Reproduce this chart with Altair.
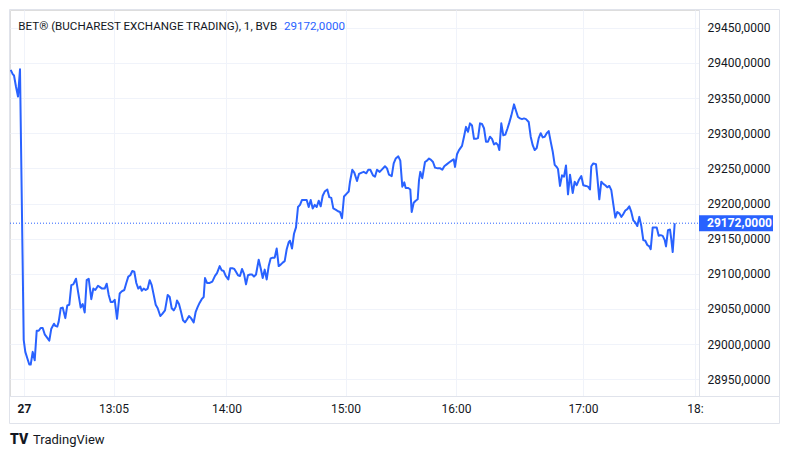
import altair as alt
import pandas as pd

# ---- data (bar index ~ 1-minute bars, price) ----
bars = [
    0.35, 1.35, 2, 3, 4, 5, 6.85, 7.65, 8.65, 9.65,
    10.35, 11.35, 12.35, 13.35, 14.35, 15.35, 16.35, 17.35, 18.65, 19.65,
    20.65, 22, 22.65, 23.65, 24.35, 25.35, 26.35, 27.65, 28.65, 29.65,
    30.65, 31.65, 33, 34, 35.35, 36.35, 37.35, 38.35, 39.35, 40.65,
    41.65, 42.65, 44, 45, 46, 47.35, 48.35, 49.35, 50.35, 51.35,
    52.35, 53.5, 54.85, 55.85, 57.15, 58.15, 59.15, 60.15, 61.15, 62.15,
    63.15, 64.15, 65.15, 65.85, 66.85, 67.85, 68.85, 69.85, 70.85, 71.85,
    72.85, 73.85, 75.15, 76.15, 77.5, 78.85, 79.85, 80.85, 81.85, 82.85,
    83.5, 84.5, 85.5, 86.5, 87.5, 88.5, 89.5, 90.5, 91.85, 92.85,
    93.85, 94.85, 95.85, 96.85, 97.5, 98.5, 99.85, 101.15, 102.5, 103.5,
    104.85, 105.85, 106.85, 107.85, 109.15, 110.15, 111.15, 112.15, 113, 114,
    115, 116, 117, 118, 119, 120, 121, 122, 123, 124.35,
    125.35, 126.35, 127.35, 128.35, 129.35, 130.35, 131.35, 132.35, 133.35, 134.35,
    135.35, 136.35, 137.35, 138.35, 139.35, 140, 141, 142, 143, 144,
    145, 146, 147, 148.35, 149.35, 150.35, 151.35, 152.35, 153.35, 154.35,
    155.35, 156.35, 157.35, 158.65, 159.65, 160.65, 161.65, 163, 164, 165,
    166, 167, 168.35, 169.35, 170, 171.15, 172.15, 173.5, 174.5, 175.85,
    176.85, 178.15, 179.15, 180.15, 181.5, 182.5, 183.5, 184.85, 186.15, 187.5,
    188.5, 189.5, 190.85, 191.85, 192.85, 194.15, 195.15, 196.15, 197.15, 197.85,
    199.15, 200.15, 200.85, 201.85, 202.85, 203.85, 204.5, 205.15, 206.15, 207.5,
    208.5, 209.5, 210.5, 211.5, 212.5, 213.85, 215.15, 216.15, 217.15, 218.5,
    219.85, 220.85, 221.85, 222.5, 223.5, 224.5, 226, 227, 228, 229,
    230, 231, 232, 233, 234, 235, 236, 237, 238, 239,
    240, 241, 242, 243, 244, 244.65, 245.65, 246.65, 247.65, 248.65,
    249.65, 250.65, 252, 253, 254, 255, 256, 257, 258, 259.35,
    260.35, 261.35, 262.35, 263.35, 264.35, 265.35, 266.35, 267.35, 268.35, 269.35,
    270.35, 271.35, 272.35, 273.35, 274, 275, 276, 277, 278, 279,
    280, 281.35, 282.35, 283.35, 284.35, 285.65, 286.65, 288, 289, 290,
    290.65, 291.65, 293, 293.65, 294.65, 295.65, 296.65, 297.65, 298.65, 299.65,
    300.65, 301.65, 302.65, 303.65, 304.65, 305.65, 306.65, 307.65, 308.65, 309.65,
    310.65, 311.65, 312.65, 313.65, 314.65, 315.65, 316.65, 317.65, 318.65, 319.65,
    320.35, 321.35, 322.35, 323.35, 324.35, 325.35, 326.35, 327.35, 328, 329,
    330, 330.65, 331.35, 332.35,
]
prices = [
    29390, 29384, 29382, 29366, 29352, 29391, 29006, 28989, 28980, 28971,
    28971, 28989, 28977, 29019, 29019, 29023, 29023, 29014, 29009, 29005,
    29022, 29029, 29026, 29025, 29032, 29051, 29052, 29037, 29055, 29056,
    29084, 29085, 29093, 29075, 29052, 29057, 29045, 29091, 29093, 29064,
    29079, 29077, 29083, 29081, 29079, 29079, 29086, 29070, 29060, 29060,
    29063, 29036, 29072, 29075, 29077, 29087, 29096, 29098, 29104, 29103,
    29087, 29079, 29082, 29076, 29079, 29077, 29079, 29091, 29084, 29070,
    29056, 29051, 29040, 29043, 29048, 29070, 29067, 29051, 29048, 29053,
    29062, 29057, 29046, 29034, 29031, 29035, 29040, 29037, 29031, 29046,
    29053, 29059, 29064, 29067, 29094, 29087, 29087, 29089, 29097, 29101,
    29111, 29105, 29104, 29097, 29092, 29108, 29108, 29107, 29103, 29098,
    29097, 29107, 29100, 29085, 29098, 29099, 29099, 29096, 29099, 29120,
    29108, 29094, 29106, 29092, 29111, 29122, 29123, 29123, 29136, 29111,
    29113, 29116, 29118, 29135, 29145, 29147, 29136, 29157, 29166, 29195,
    29198, 29205, 29205, 29205, 29195, 29205, 29193, 29198, 29195, 29204,
    29196, 29211, 29217, 29220, 29209, 29208, 29193, 29191, 29189, 29188,
    29179, 29210, 29214, 29217, 29231, 29248, 29244, 29232, 29242, 29244,
    29245, 29243, 29248, 29248, 29240, 29238, 29248, 29245, 29249, 29253,
    29250, 29241, 29239, 29257, 29264, 29267, 29261, 29224, 29230, 29222,
    29222, 29220, 29188, 29201, 29204, 29206, 29233, 29245, 29236, 29259,
    29261, 29264, 29262, 29259, 29251, 29250, 29250, 29248, 29253, 29256,
    29259, 29261, 29263, 29252, 29270, 29276, 29282, 29295, 29309, 29302,
    29314, 29311, 29292, 29292, 29293, 29314, 29313, 29307, 29288, 29288,
    29295, 29292, 29284, 29286, 29283, 29276, 29314, 29297, 29298, 29306,
    29315, 29325, 29341, 29332, 29323, 29321, 29320, 29321, 29320, 29316,
    29295, 29283, 29276, 29279, 29293, 29300, 29294, 29295, 29300, 29303,
    29288, 29274, 29255, 29252, 29249, 29225, 29240, 29238, 29254, 29213,
    29241, 29215, 29231, 29226, 29233, 29239, 29226, 29225, 29224, 29220,
    29253, 29257, 29256, 29238, 29206, 29231, 29228, 29226, 29223, 29225,
    29219, 29199, 29180, 29188, 29186, 29181, 29185, 29190, 29192, 29196,
    29188, 29176, 29173, 29168, 29181, 29168, 29148, 29147, 29141, 29139,
    29135, 29166, 29166, 29166, 29154, 29155, 29154, 29148, 29139, 29162,
    29163, 29149, 29131, 29172,
]
time_tick_bars = [7, 51.75, 108.25, 167.75, 223, 286.5, 342.5]
time_tick_labels = ["27", "13:05", "14:00", "15:00", "16:00", "17:00", "18:"]
price_ticks = [28950, 29000, 29050, 29100, 29150, 29200, 29250, 29300, 29350, 29400, 29450]
last_price = 29172
x_domain = [0, 344.5]
y_domain = [28926.25, 29475.2]
title_text = "BET® (BUCHAREST EXCHANGE TRADING), 1, BVB"
brand_text = "TradingView"

n = min(len(bars), len(prices))
df = pd.DataFrame({"bar": bars[:n], "price": prices[:n]})
last_label = f"{last_price:.4f}".replace(".", ",")
last_df = pd.DataFrame({"price": [last_price], "label": [last_label]})
one = pd.DataFrame({"d": [0]})

W, H = 689, 386
BLUE = "#2962ff"
GRID = "#f0f3fa"
BORDER = "#e0e3eb"
TEXT = "#131722"
FONT = "Roboto"

x_expr = " : ".join(f"datum.value == {b} ? '{l}'" for b, l in zip(time_tick_bars, time_tick_labels)) + " : ''"

x_enc = alt.X(
    "bar:Q",
    scale=alt.Scale(domain=x_domain, nice=False, zero=False),
    axis=alt.Axis(
        values=time_tick_bars, labelExpr=x_expr, grid=True, gridColor=GRID,
        tickSize=0, domain=False, labelPadding=7, labelFontSize=12,
        labelColor=TEXT, labelFont=FONT, labelOverlap=False, labelFlush=False,
        labelFontWeight={"condition": {"test": "datum.value == 7", "value": "bold"}, "value": "normal"},
        title=None,
    ),
)
y_enc = alt.Y(
    "price:Q",
    scale=alt.Scale(domain=y_domain, nice=False, zero=False),
    axis=alt.Axis(
        orient="right", values=price_ticks,
        labelExpr="replace(format(datum.value, '.4f'), '.', ',')",
        grid=True, gridColor=GRID, tickSize=0, domain=False, labelPadding=8,
        labelFontSize=12, labelColor=TEXT, labelFont=FONT, labelAlign="left",
        labelBaseline="middle", labelOverlap=False, labelFlush=False, title=None,
    ),
)

line = alt.Chart(df).mark_line(color=BLUE, strokeWidth=2, strokeJoin="round").encode(x=x_enc, y=y_enc)

dotted = alt.Chart(last_df).mark_rule(color=BLUE, strokeWidth=1, strokeDash=[1, 2]).encode(
    y=y_enc, x=alt.value(0), x2=alt.value(W))
box = alt.Chart(last_df).mark_rule(color=BLUE, strokeWidth=16).encode(
    y=y_enc, x=alt.value(W), x2=alt.value(W + 74))
box_text = alt.Chart(last_df).mark_text(
    color="white", align="left", baseline="middle", fontSize=12, font=FONT, fontWeight="bold"
).encode(y=y_enc, x=alt.value(W + 8), text="label:N")

title1 = alt.Chart(one).mark_text(
    align="left", baseline="alphabetic", fontSize=11.6, font=FONT, color=TEXT
).encode(x=alt.value(8.3), y=alt.value(19.5), text=alt.value(title_text))
title2 = alt.Chart(one).mark_text(
    align="left", baseline="alphabetic", fontSize=11.6, font=FONT, color=BLUE
).encode(x=alt.value(274), y=alt.value(19.5), text=alt.value(last_label))

logo = alt.Chart(one).mark_text(
    align="left", baseline="middle", fontSize=14, font=FONT, fontWeight=900, color=TEXT
).encode(x=alt.value(0), y=alt.value(430), text=alt.value("TV"))
brand = alt.Chart(one).mark_text(
    align="left", baseline="middle", fontSize=13, font=FONT, color=TEXT
).encode(x=alt.value(23), y=alt.value(430), text=alt.value(brand_text))


def hrule(y, x1, x2):
    return alt.Chart(one).mark_rule(color=BORDER, strokeWidth=1).encode(
        y=alt.value(y), x=alt.value(x1), x2=alt.value(x2))


def vrule(x, y1, y2):
    return alt.Chart(one).mark_rule(color=BORDER, strokeWidth=1).encode(
        x=alt.value(x), y=alt.value(y1), y2=alt.value(y2))


frame = [
    hrule(-0.5, -0.5, 769.5),
    hrule(413.5, -0.5, 769.5),
    hrule(H + 0.5, -0.5, 769.5),
    vrule(-0.5, -0.5, 413.5),
    vrule(769.5, -0.5, 413.5),
    vrule(W + 0.5, -0.5, H + 0.5),
]

chart = alt.layer(
    line, dotted, *frame, box, box_text, title1, title2, logo, brand
).properties(
    width=W, height=H,
    autosize=alt.AutoSizeParams(type="none"),
    padding={"left": 2, "top": 2, "right": 82, "bottom": 52},
    background="white",
).configure_view(strokeWidth=0).configure(font=FONT)

chart.save("out.html", embed_options={"renderer": "svg", "actions": False})
